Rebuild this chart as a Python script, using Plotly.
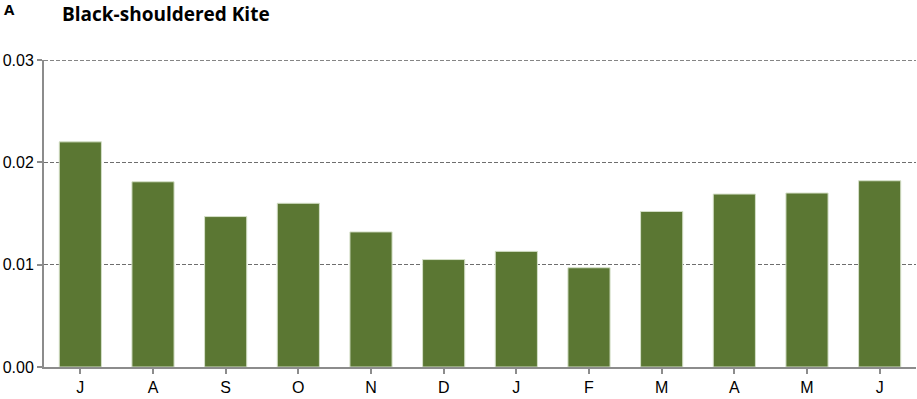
import plotly.graph_objects as go

months = ["J", "A", "S", "O", "N", "D", "J", "F", "M", "A", "M", "J"]
values = [0.0220, 0.0181, 0.0147, 0.0160, 0.0132, 0.0105, 0.0113, 0.0097, 0.0152, 0.0169, 0.0170, 0.0182]
x_idx = list(range(len(months)))
y_max = 0.03

fig = go.Figure()
fig.add_trace(go.Bar(
    x=x_idx, y=values,
    marker=dict(color="#5b7733", line=dict(color="#d5e0c8", width=1)),
    width=0.58,
))

fig.update_layout(
    width=917, height=399,
    margin=dict(l=44, r=1, t=60, b=32),
    plot_bgcolor="white", paper_bgcolor="white",
    showlegend=False,
    font=dict(family="Liberation Sans, Arial", size=16, color="#000"),
)
fig.update_xaxes(
    tickmode="array", tickvals=x_idx, ticktext=months,
    range=[-0.5, len(months) - 0.5],
    showline=True, linecolor="#8c8c8c", linewidth=2,
    ticks="outside", ticklen=5, tickcolor="#8c8c8c", tickwidth=2,
    tickson="boundaries", showgrid=False,
    tickfont=dict(size=16),
)
fig.update_yaxes(
    range=[0, y_max], dtick=0.01, tickformat=".2f",
    showline=True, linecolor="#8c8c8c", linewidth=2,
    ticks="outside", ticklen=5, tickcolor="#8c8c8c", tickwidth=2,
    showgrid=True, gridcolor="#6e6e6e", griddash="4px,2px", gridwidth=1,
    zeroline=False, tickfont=dict(size=16),
)
# top gridline (at the range edge)
fig.add_shape(type="line", xref="paper", yref="y", x0=0, x1=1, y0=y_max, y1=y_max,
              line=dict(color="#5e5e5e", width=1.3, dash="4px,2px"))
fig.add_annotation(text="<b>A</b>", xref="paper", yref="paper", x=-42/872, y=1 + 51/307,
                   xanchor="left", yanchor="middle", showarrow=False,
                   font=dict(family="Open Sans", size=15, color="#000"))
fig.add_annotation(text="<b>Black-shouldered Kite</b>", xref="paper", yref="paper",
                   x=(60-44)/872, y=1 + 46/307, xanchor="left", yanchor="middle", showarrow=False,
                   font=dict(family="Open Sans", size=19, color="#000"))

fig.write_html("out.html")
